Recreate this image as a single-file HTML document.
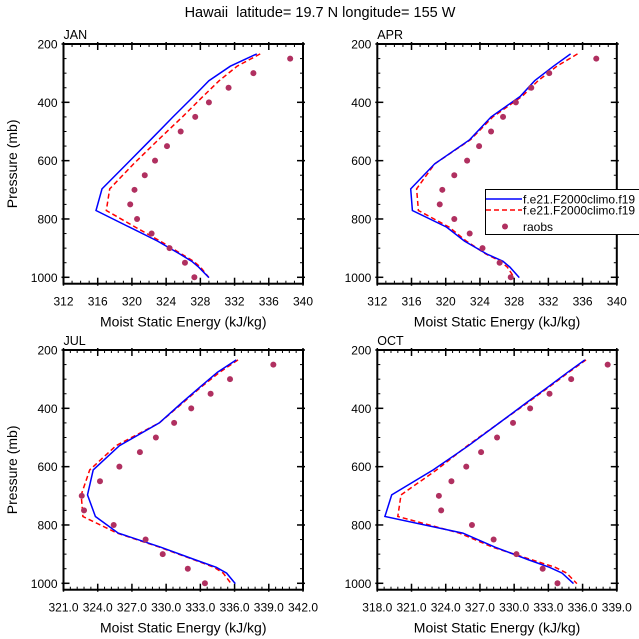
<!DOCTYPE html>
<html><head><meta charset="utf-8"><style>
body{margin:0;background:#fff;}
svg{display:block;font-family:"Liberation Sans",sans-serif;}
</style></head><body>
<svg id="chart" width="639" height="639" viewBox="0 0 639 639">
<text x="320" y="17" text-anchor="middle" font-size="14.5">Hawaii&#160; latitude= 19.7 N longitude= 155 W</text>
</svg>
<script>
const obsLevels=[250,300,350,400,450,500,550,600,650,700,750,800,850,900,950,1000];
const modelLevels=[234,276,326,380,450,528,611,697,771,828,876,920,945,965,1001];
const janObs=[338.5,334.2,331.3,329.0,327.4,325.7,324.1,322.7,321.5,320.3,319.8,320.6,322.3,324.4,326.2,327.3];
const janBlue=[334.6,331.5,329.0,327.2,324.8,322.2,319.4,316.5,315.8,319.7,323.0,325.6,327.0,327.8,329.0];
const janRed=[335.0,332.3,330.2,328.3,325.9,323.1,320.2,317.4,317.0,320.4,323.3,325.8,327.2,328.0,329.0];
const aprObs=[337.6,332.1,330.0,328.2,326.7,325.3,323.9,322.5,321.0,319.6,319.3,321.0,322.8,324.3,326.3,327.6];
const aprBlue=[334.6,332.6,330.4,328.7,325.3,322.8,318.7,315.9,316.1,320.1,322.2,324.8,326.7,327.5,328.6];
const aprRed=[335.4,333.0,330.8,328.9,325.5,322.9,318.7,316.6,316.8,320.4,322.4,324.7,326.4,327.2,328.0];
const julObs=[339.4,335.6,333.9,332.2,330.7,329.1,327.7,325.9,324.2,322.6,322.8,325.4,328.2,329.7,331.9,333.4];
const julBlue=[336.15,334.5,333.0,331.4,329.4,325.9,323.6,323.1,323.8,325.8,329.5,332.6,334.4,335.3,336.06];
const julRed=[336.3,334.7,333.1,331.5,329.4,325.6,323.3,322.55,322.7,325.7,329.4,332.5,334.2,335.0,335.7];
const octObs=[338.2,335.0,333.1,331.4,329.9,328.5,327.1,325.8,324.5,323.4,323.6,326.3,328.2,330.2,332.5,333.8];
const octBlue=[336.2,334.7,333.0,331.1,328.7,326.0,322.9,319.26,318.67,325.5,328.3,331.3,333.1,334.2,335.2];
const octRed=[336.3,334.8,333.1,331.2,328.7,325.9,323.2,320.08,319.8,325.2,328.1,331.6,333.6,334.6,335.5];
const topXTicks=[312,316,320,324,328,332,336,340];
const julXTicks=[321,324,327,330,333,336,339,342];
const octXTicks=[318,321,324,327,330,333,336,339];
const yTicks=[200,400,600,800,1000];

const NS="http://www.w3.org/2000/svg";
const svg=document.getElementById('chart');
function mk(tag,attrs,parent){const e=document.createElementNS(NS,tag);for(const k in attrs)e.setAttribute(k,attrs[k]);(parent||svg).appendChild(e);return e;}

const panels=[
 {name:'jan',label:'JAN',x0:63.5,y0:44,xt:topXTicks,minor:1,dec:0,obs:janObs,blue:janBlue,red:janRed,ylab:true},
 {name:'apr',label:'APR',x0:377.3,y0:44,xt:topXTicks,minor:1,dec:0,obs:aprObs,blue:aprBlue,red:aprRed,ylab:false},
 {name:'jul',label:'JUL',x0:63.5,y0:350,xt:julXTicks,minor:0.6,dec:1,obs:julObs,blue:julBlue,red:julRed,ylab:true},
 {name:'oct',label:'OCT',x0:377.3,y0:350,xt:octXTicks,minor:0.6,dec:1,obs:octObs,blue:octBlue,red:octRed,ylab:false}
];
const W=239.5, PX=233.3/800;
panels.forEach(p=>{
 const g=mk('g',{});
 
 
 const xmin=p.xt[0],xmax=p.xt[p.xt.length-1];
 const xs=v=>p.x0+(v-xmin)/(xmax-xmin)*W;
 const ys=v=>p.y0+(v-200)*PX;
 const yb=ys(1022);
 const H=yb-p.y0;
 const cp=mk('clipPath',{id:'clip-'+p.name},g);
 mk('rect',{x:p.x0,y:p.y0,width:W,height:H},cp);
 for(let v=xmin;v<=xmax+1e-6;v+=p.minor){
  const x=xs(v);
  mk('line',{x1:x,x2:x,y1:yb,y2:yb-3,stroke:'#000','stroke-width':1},g);
  mk('line',{x1:x,x2:x,y1:p.y0,y2:p.y0+3,stroke:'#000','stroke-width':1},g);
 }
 for(let v=250;v<=1000;v+=50){
  const y=ys(v);
  mk('line',{x1:p.x0,x2:p.x0+3,y1:y,y2:y,stroke:'#000','stroke-width':1},g);
  mk('line',{x1:p.x0+W,x2:p.x0+W-3,y1:y,y2:y,stroke:'#000','stroke-width':1},g);
 }
 p.xt.forEach(v=>{
  const x=xs(v);
  mk('line',{x1:x,x2:x,y1:yb+2,y2:yb-6,stroke:'#000','stroke-width':1.5},g);
  mk('line',{x1:x,x2:x,y1:p.y0-2,y2:p.y0+6,stroke:'#000','stroke-width':1.5},g);
  const t=mk('text',{x:x,y:yb+22,'text-anchor':'middle','font-size':12},g);
  
  
  t.textContent=v.toFixed(p.dec);
 });
 yTicks.forEach(v=>{
  const y=ys(v);
  mk('line',{x1:p.x0-2,x2:p.x0+6,y1:y,y2:y,stroke:'#000','stroke-width':1.5},g);
  mk('line',{x1:p.x0+W+2,x2:p.x0+W-6,y1:y,y2:y,stroke:'#000','stroke-width':1.5},g);
  const t=mk('text',{x:p.x0-6,y:y+4.5,'text-anchor':'end','font-size':12},g);
  
  
  t.textContent=v;
 });
 const fr=mk('rect',{x:p.x0,y:p.y0,width:W,height:H,fill:'none',stroke:'#000','stroke-width':2},g);
 
 
 const lab=mk('text',{x:p.x0,y:p.y0-5,'font-size':12.5},g);
 
 
 lab.textContent=p.label;
 const xt=mk('text',{x:p.x0+W/2,y:yb+43,'text-anchor':'middle','font-size':14},g);
 
 
 xt.textContent='Moist Static Energy (kJ/kg)';
 if(p.ylab){
  const cy=p.y0+H/2;
  const yt=mk('text',{x:17,y:cy,'text-anchor':'middle','font-size':14,transform:'rotate(-90 17 '+cy+')'},g);
  
  
  yt.textContent='Pressure (mb)';
 }
 const pg=mk('g',{'clip-path':'url(#clip-'+p.name+')'},g);
 const pts=arr=>arr.map((v,i)=>xs(v).toFixed(1)+','+ys(modelLevels[i]).toFixed(1)).join(' ');
 const red=mk('polyline',{points:pts(p.red),fill:'none',stroke:'#ff0000','stroke-width':1.5,'stroke-dasharray':'5,3'},pg);
 
 
 const blue=mk('polyline',{points:pts(p.blue),fill:'none',stroke:'#0000ff','stroke-width':1.5},pg);
 
 
 p.obs.forEach((v,i)=>{
  const c=mk('circle',{cx:xs(v),cy:ys(obsLevels[i]),r:3,fill:'#b03060'},pg);
  
  
 });
});
const lg=mk('g',{});


mk('rect',{x:485.5,y:189.5,width:160,height:45,fill:'#fff',stroke:'#000','stroke-width':1},lg);
mk('line',{x1:486,x2:522,y1:199,y2:199,stroke:'#0000ff','stroke-width':1.5},lg);
mk('line',{x1:486,x2:522,y1:210,y2:210,stroke:'#ff0000','stroke-width':1.5,'stroke-dasharray':'5,3'},lg);
mk('circle',{cx:505,cy:226.5,r:3,fill:'#b03060'},lg);
[['f.e21.F2000climo.f19',203.5,'legend-entry-blue'],['f.e21.F2000climo.f19',214.5,'legend-entry-red'],['raobs',231,'legend-entry-raobs']].forEach(d=>{
 const t=mk('text',{x:523,y:d[1],'font-size':12},lg);
 
 
 t.textContent=d[0];
});
</script>
</body></html>
